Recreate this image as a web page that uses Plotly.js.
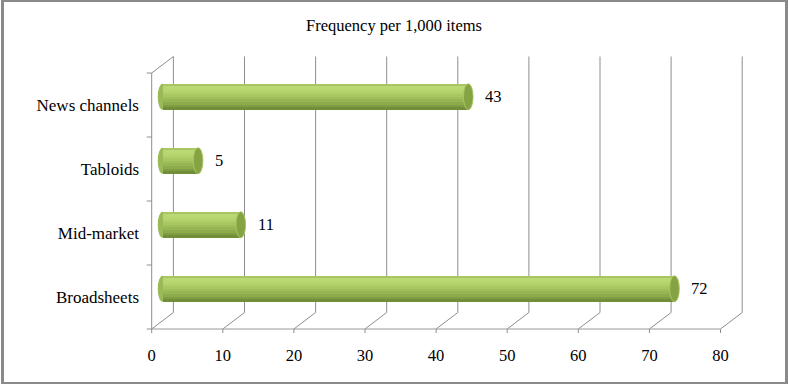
<!DOCTYPE html>
<html>
<head>
<meta charset="utf-8">
<script src="https://cdn.plot.ly/plotly-3.0.1.min.js"></script>
<style>
  html, body { margin: 0; padding: 0; background: #fff; }
  #wrap { position: relative; width: 788px; height: 386px; overflow: hidden; }
  #chart { width: 788px; height: 386px; }
  #frame { position: absolute; left: 1px; top: 0px; width: 781px; height: 380px;
           border-left: 3px solid #8a8a8a; border-top: 2px solid #8a8a8a;
           border-right: 3px solid #8a8a8a; border-bottom: 2px solid #8a8a8a;
           pointer-events: none; }
</style>
</head>
<body>
<div id="wrap"><div id="chart"></div><div id="frame"></div></div>
<script>
// ---- data ----
const categories = ["Broadsheets", "Mid-market", "Tabloids", "News channels"];
const values = [72, 11, 5, 43];
const xTicks = [0, 10, 20, 30, 40, 50, 60, 70, 80];
const chartTitle = "Frequency per 1,000 items";

const FONT = "'Liberation Serif', 'Times New Roman', Times, serif";

// ---- geometry of the pseudo-3D box (axis units) ----
const PX_X = 7.11;          // px per x unit
const PX_Y = 64;            // px per category
const DX = 21.7 / PX_X;     // depth offset x
const DY = 16.5 / PX_Y;     // depth offset y
const BX = DX / 2, BY = DY / 2;   // bars sit mid-depth
const W = 26 / PX_Y;        // bar thickness
const yLo = -0.5, yHi = categories.length - 0.5;
const xMax = xTicks[xTicks.length - 1];
const grid = '#8e8e8e';

const yPos = categories.map((c, i) => i + BY);

// stripes for cylinder shading (bottom -> top)
const stripeColors = ['#718e38','#7f9c42','#8cab4b','#97b653','#a0bf5a','#a8c761',
                      '#b0cf68','#b7d56f','#bad873','#a8c562'];
const N = stripeColors.length;
const traces = stripeColors.map((col, k) => ({
  type: 'bar', orientation: 'h',
  x: values, y: yPos, base: values.map(() => BX),
  width: W / N + 0.002, offset: -W / 2 + k * W / N,
  marker: { color: col, line: { width: 0 } },
  hoverinfo: 'skip', showlegend: false
}));

const shapes = [];
const line = (x0, y0, x1, y1, c, w) => shapes.push({
  type: 'line', xref: 'x', yref: 'y', x0, y0, x1, y1, layer: 'below',
  line: { color: c || grid, width: w || 1 }
});
// back wall gridlines + floor diagonals + front ticks
xTicks.forEach(t => {
  line(t + DX, yLo + DY, t + DX, yHi + DY);
  line(t, yLo, t + DX, yLo + DY);
  line(t, yLo, t, yLo - 4 / PX_Y);
});
// front floor line
line(0, yLo, xMax, yLo, '#9a9a9a');
// left wall
line(0, yLo, 0, yHi);
line(0, yHi, DX, yHi + DY);
for (let b = 0; b <= categories.length; b++) line(-5 / PX_X, yLo + b, 0, yLo + b);

// rounded left ends and end caps
const rx = 4.8 / PX_X;
values.forEach((v, i) => {
  shapes.push({ type: 'circle', xref: 'x', yref: 'y', layer: 'below',
    x0: BX - rx, x1: BX + rx, y0: yPos[i] - W / 2, y1: yPos[i] + W / 2,
    fillcolor: '#9aba57', line: { width: 0 } });
  shapes.push({ type: 'circle', xref: 'x', yref: 'y', layer: 'above',
    x0: BX + v - rx, x1: BX + v + rx, y0: yPos[i] - W / 2, y1: yPos[i] + W / 2,
    fillcolor: '#86a343', line: { color: '#a9c562', width: 1 } });
});

const annotations = values.map((v, i) => ({
  x: BX + v, y: yPos[i], xref: 'x', yref: 'y', text: String(v),
  showarrow: false, xanchor: 'left', yanchor: 'middle', xshift: 15,
  font: { family: FONT, size: 16.5, color: '#000' }
}));

const L = 140, R = 760, T = 45, B = 335;
const layout = {
  width: 788, height: 386,
  margin: { l: L, r: 788 - R, t: T, b: 386 - B, pad: 0 },
  paper_bgcolor: '#fff', plot_bgcolor: 'rgba(0,0,0,0)',
  barmode: 'overlay', bargap: 0,
  font: { family: FONT, size: 16, color: '#000' },
  title: { text: chartTitle, x: 0.5, xref: 'container', xanchor: 'center',
           y: 1 - 25 / 386, yref: 'container', yanchor: 'middle',
           font: { family: FONT, size: 16.5, color: '#000' } },
  xaxis: { range: [(L - 151.7) / PX_X, (R - 151.7) / PX_X], tickvals: xTicks,
           ticktext: xTicks.map(String), showgrid: false, zeroline: false, showline: false,
           ticks: '', ticklabelstandoff: 8, fixedrange: true,
           tickfont: { family: FONT, size: 16.5, color: '#000' } },
  yaxis: { range: [yLo - (B - 329) / PX_Y, yLo + (329 - T) / PX_Y],
           tickvals: categories.map((c, i) => i), ticktext: categories,
           showgrid: false, zeroline: false, showline: false, ticks: '', fixedrange: true,
           tickfont: { family: FONT, size: 17, color: '#000' } },
  shapes, annotations, showlegend: false
};

Plotly.newPlot('chart', traces, layout, { displayModeBar: false, staticPlot: true });
</script>
</body>
</html>
